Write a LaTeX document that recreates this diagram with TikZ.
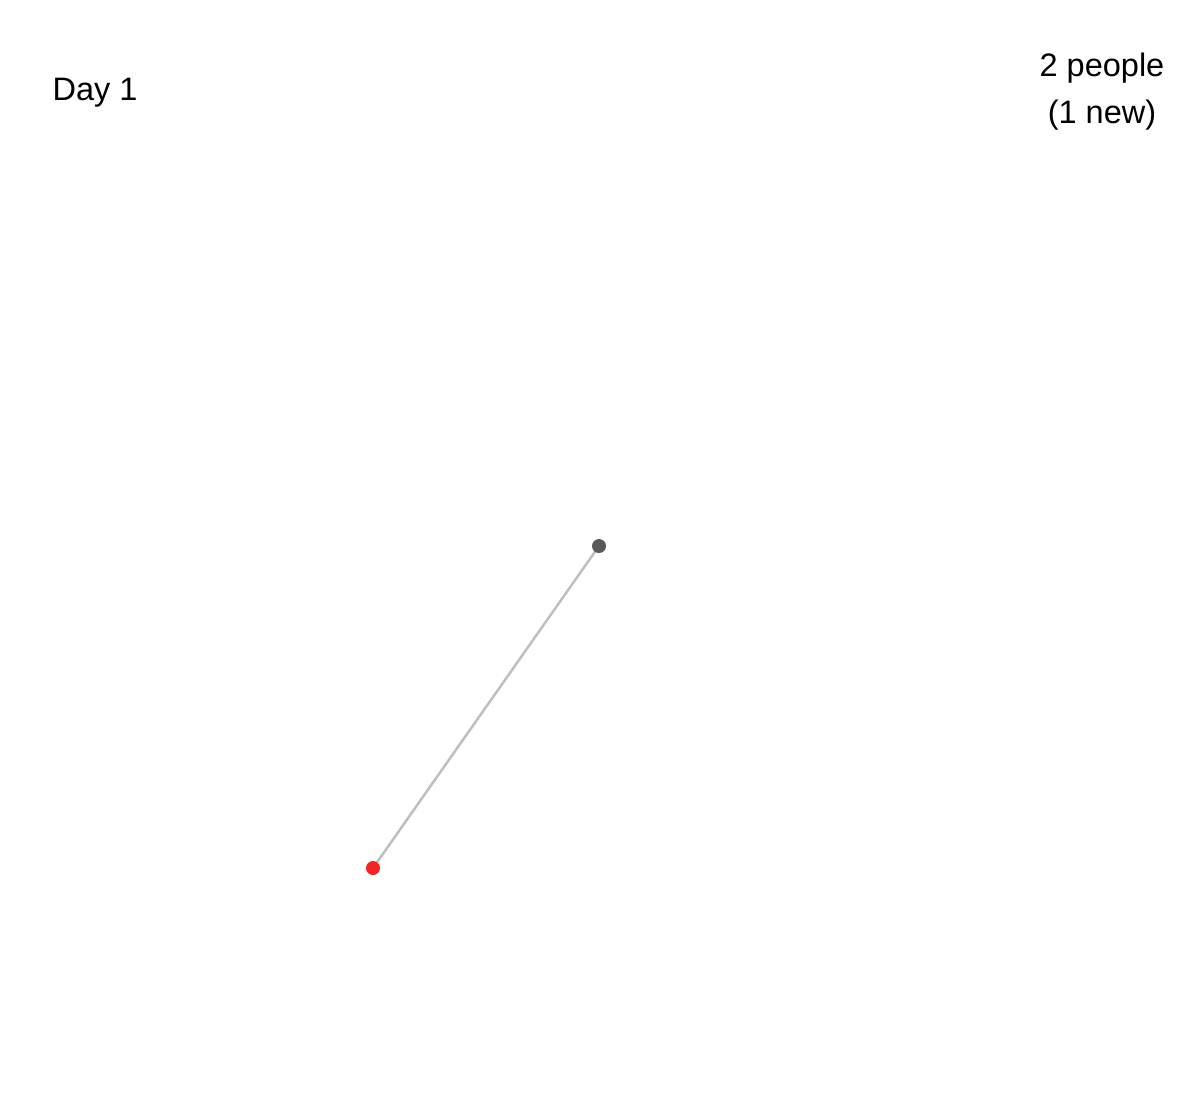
\documentclass[tikz,border=0pt]{standalone}
\usepackage{fontspec}
\setmainfont{Liberation Sans}
\usetikzlibrary{positioning, backgrounds}

\begin{document}
\begin{tikzpicture}[x=0.02cm, y=-0.02cm,
    person/.style={circle, inner sep=0pt, minimum size=0.28cm},
    label text/.style={font=\fontsize{18.5}{26.7}\selectfont, inner sep=0pt}]

% Frame
\useasboundingbox (0,0) rectangle (1200,1093);

% Titles
\node[label text, anchor=base] (day) at (95,100) {Day 1};
\node[label text, anchor=base, align=center] (count) at (1102,123) {2 people\\(1 new)};

% People
\node[person, fill=black!65] (p1) at (599,546) {};
\node[person, fill=red!85!white!95!black] (p2) at (373,868) {};

% Contact
\begin{scope}[on background layer]
\draw[black!25, line width=0.05cm] (p1.center) -- (p2.center);
\end{scope}

\end{tikzpicture}
\end{document}
